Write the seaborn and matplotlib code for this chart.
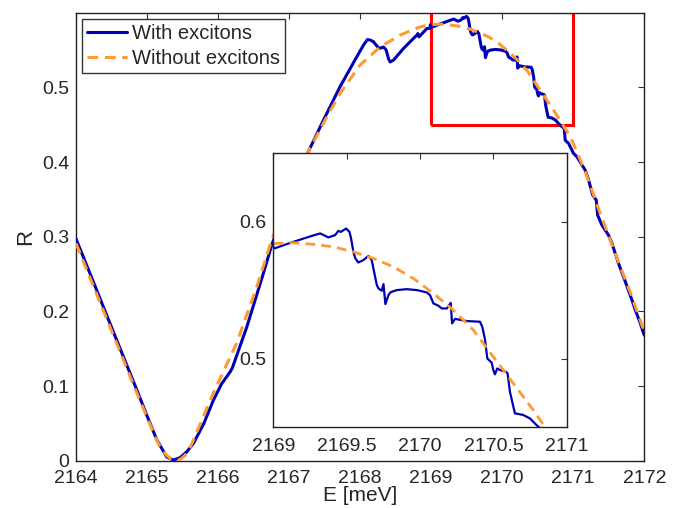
import matplotlib
matplotlib.use("Agg")
import matplotlib.pyplot as plt
from matplotlib.patches import Rectangle
import numpy as np
import pandas as pd
import seaborn as sns

# Reflektivnost sa i bez ekscitona (ocitano sa slike)
E_with = [2164.00, 2164.20, 2164.385, 2164.60, 2164.855, 2165.00, 2165.137, 2165.277,
          2165.37, 2165.465, 2165.56, 2165.652, 2165.80, 2165.934, 2166.05, 2166.17,
          2166.20, 2166.404, 2166.638, 2166.756, 2167.00, 2167.272, 2167.483, 2167.718,
          2167.953, 2168.05, 2168.103, 2168.15, 2168.188, 2168.23, 2168.268, 2168.329,
          2168.366, 2168.40, 2168.423, 2168.469, 2168.61, 2168.751, 2168.80, 2168.812,
          2168.83, 2168.939, 2168.98, 2168.99, 2169.007, 2169.138, 2169.26, 2169.32,
          2169.376, 2169.422, 2169.444, 2169.46, 2169.497, 2169.519, 2169.53, 2169.546,
          2169.56, 2169.58, 2169.614, 2169.649, 2169.671, 2169.694, 2169.705, 2169.717,
          2169.739, 2169.751, 2169.764, 2169.785, 2169.80, 2169.841, 2169.909, 2169.98,
          2170.046, 2170.068, 2170.091, 2170.125, 2170.148, 2170.182, 2170.209, 2170.218,
          2170.238, 2170.317, 2170.408, 2170.424, 2170.442, 2170.458, 2170.488, 2170.499,
          2170.51, 2170.526, 2170.544, 2170.585, 2170.596, 2170.612, 2170.646, 2170.703,
          2170.748, 2170.805, 2170.873, 2170.887, 2170.934, 2171.004, 2171.052, 2171.169,
          2171.216, 2171.272, 2171.324, 2171.343, 2171.404, 2171.497, 2171.545, 2171.638,
          2171.732, 2171.827, 2171.873, 2171.944, 2172.00]
R_with = [0.297, 0.250, 0.206, 0.155, 0.095, 0.060, 0.028, 0.005,
          0.001, 0.004, 0.012, 0.023, 0.050, 0.081, 0.103, 0.119,
          0.124, 0.179, 0.251, 0.289, 0.352, 0.414, 0.456, 0.501,
          0.541, 0.557, 0.564, 0.563, 0.561, 0.556, 0.552, 0.554,
          0.550, 0.538, 0.534, 0.5364, 0.552, 0.5655, 0.570, 0.572,
          0.5676, 0.5788, 0.579, 0.584, 0.5804, 0.5853, 0.5895, 0.5914,
          0.5885, 0.5902, 0.5933, 0.5925, 0.5950, 0.5926, 0.588, 0.578,
          0.573, 0.5702, 0.5719, 0.5750, 0.5719, 0.5597, 0.554, 0.5512,
          0.5495, 0.5544, 0.5398, 0.5464, 0.5485, 0.5500, 0.5507, 0.5500,
          0.5483, 0.5463, 0.5403, 0.5386, 0.5366, 0.5366, 0.5407, 0.5257,
          0.5290, 0.5274, 0.5269, 0.5232, 0.5141, 0.5001, 0.4970, 0.4916,
          0.4885, 0.4928, 0.4916, 0.4904, 0.4892, 0.4758, 0.4600, 0.4588,
          0.4563, 0.4502, 0.4450, 0.429, 0.425, 0.4115, 0.407, 0.389,
          0.376, 0.356, 0.349, 0.329, 0.3155, 0.302, 0.291, 0.264,
          0.240, 0.215, 0.202, 0.184, 0.168]

E_without = [2164.00, 2164.385, 2164.855, 2165.137, 2165.20, 2165.277, 2165.33, 2165.40,
             2165.47, 2165.52, 2165.58, 2165.65, 2165.93, 2166.26, 2166.545, 2166.756,
             2167.00, 2167.272, 2167.50, 2167.718, 2168.00, 2168.282, 2168.563, 2168.845,
             2169.00, 2169.138, 2169.274, 2169.41, 2169.546, 2169.683, 2169.819, 2169.955,
             2170.091, 2170.227, 2170.363, 2170.499, 2170.635, 2170.771, 2170.85, 2170.96,
             2171.17, 2171.38, 2171.59, 2171.80, 2172.00]
R_without = [0.291, 0.201, 0.091, 0.027, 0.016, 0.007, 0.003, 0.000,
             0.002, 0.006, 0.012, 0.027, 0.090, 0.157, 0.233, 0.296,
             0.356, 0.414, 0.455, 0.492, 0.530, 0.554, 0.570, 0.581,
             0.584, 0.5846, 0.5834, 0.5816, 0.5780, 0.5731, 0.5670, 0.5585,
             0.5476, 0.5354, 0.5208, 0.5013, 0.4819, 0.4624, 0.4502, 0.4337,
             0.387, 0.331, 0.2777, 0.2262, 0.1727]

labels = ["With excitons", "Without excitons"]
xticks_main = [2164, 2165, 2166, 2167, 2168, 2169, 2170, 2171, 2172]
yticks_main = [0, 0.1, 0.2, 0.3, 0.4, 0.5]
xticks_inset = [2169, 2169.5, 2170, 2170.5, 2171]
yticks_inset = [0.5, 0.6]

df_with = pd.DataFrame({"E": E_with, "R": R_with})
df_without = pd.DataFrame({"E": E_without, "R": R_without})

sns.set_style("white")
plt.rcParams["font.family"] = ["Liberation Sans", "DejaVu Sans"]
plt.rcParams["xtick.direction"] = "in"
plt.rcParams["ytick.direction"] = "in"

blue = "#0000b4"
orange = "#ff9933"

fig = plt.figure(figsize=(6.83, 5.08), dpi=100)
ax = fig.add_axes([0.1113, 0.0931, 0.832, 0.882])

sns.lineplot(data=df_with, x="E", y="R", ax=ax, color=blue, lw=2.2,
             label=labels[0], sort=False, errorbar=None, zorder=3)
sns.lineplot(data=df_without, x="E", y="R", ax=ax, color=orange, lw=2.2,
             linestyle=(0, (3.5, 2.2)), label=labels[1], sort=False,
             errorbar=None, zorder=4)

ax.add_patch(Rectangle((2169, 0.45), 2, 0.2, fill=False, edgecolor="red",
                       lw=2.2, zorder=2))

ax.set_xlim(2164, 2172)
ax.set_ylim(0, 0.6)
ax.set_xticks(xticks_main)
ax.set_yticks(yticks_main)
ax.set_yticklabels(["0", "0.1", "0.2", "0.3", "0.4", "0.5"])
ax.tick_params(labelsize=14, length=4, width=0.8, top=True, right=True,
               color="#333333")
ax.tick_params(axis="x", pad=7)
ax.tick_params(axis="y", pad=5)
for s in ax.spines.values():
    s.set_linewidth(1.0)
    s.set_color("#222222")
ax.set_xlabel("E [meV]", fontsize=15, labelpad=-1)
ax.set_ylabel("R", fontsize=16, labelpad=4)

leg = ax.legend(loc="upper left", bbox_to_anchor=(0.01, 0.986), borderaxespad=0,
                fontsize=14.5, frameon=True, fancybox=False, handlelength=2.0,
                handletextpad=0.25, labelspacing=0.3, borderpad=0.25)
leg.get_frame().set_edgecolor("black")
leg.get_frame().set_linewidth(1.0)

# inset
axin = fig.add_axes([0.400, 0.1594, 0.430, 0.539])
axin.set_facecolor("white")
sns.lineplot(data=df_with, x="E", y="R", ax=axin, color=blue, lw=1.6,
             sort=False, errorbar=None)
sns.lineplot(data=df_without, x="E", y="R", ax=axin, color=orange, lw=2.0,
             linestyle=(0, (3.5, 2.2)), sort=False, errorbar=None)
axin.set_xlim(2169, 2171)
axin.set_ylim(0.45, 0.65)
axin.set_xticks(xticks_inset)
axin.set_xticklabels(["2169", "2169.5", "2170", "2170.5", "2171"])
axin.set_yticks(yticks_inset)
axin.set_yticklabels(["0.5", "0.6"])
axin.tick_params(labelsize=14, length=4, width=0.8, top=True, right=True,
                 color="#333333")
axin.tick_params(axis="x", pad=8)
axin.tick_params(axis="y", pad=5)
axin.set_xlabel("")
axin.set_ylabel("")
for s in axin.spines.values():
    s.set_linewidth(1.0)
    s.set_color("#222222")

fig.savefig("out.png", dpi=100)
